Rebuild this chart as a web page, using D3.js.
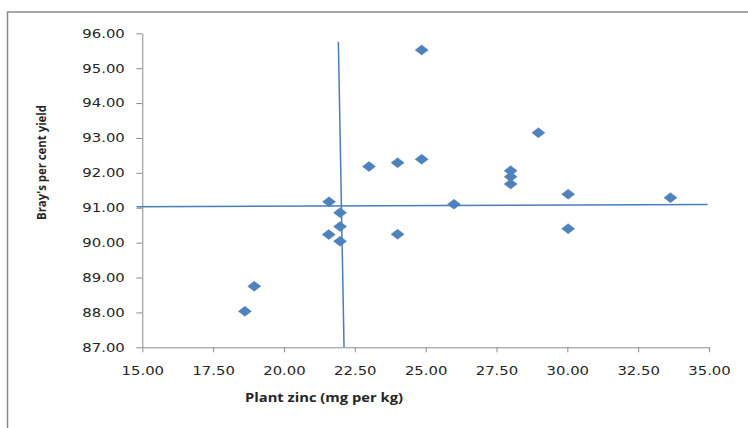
<!DOCTYPE html>
<html>
<head>
<meta charset="utf-8">
<script src="https://cdn.jsdelivr.net/npm/d3@7"></script>
<style>
    body { margin: 0; background: #fff; }
    svg { display: block; }
</style>
</head>
<body>
<script>
// plant zinc (mg per kg) vs Bray's per cent yield
var zinc  = [18.62, 18.95, 21.58, 21.59, 21.98, 21.98, 21.98, 23.00, 24.01, 24.01,
             24.86, 24.86, 26.00, 28.00, 28.00, 28.00, 28.98, 30.03, 30.03, 33.64];
var yield_ = [88.03, 88.75, 90.23, 91.17, 90.86, 90.46, 90.04, 92.18, 92.29, 90.24,
             95.52, 92.39, 91.10, 92.06, 91.89, 91.68, 93.15, 91.39, 90.40, 91.29];

// the two hand drawn dividing lines
var hLine = [[14.8, 91.03], [34.95, 91.09]];
var vLine = [[21.92, 95.76], [22.12, 87.0]];

var xTicks = [15, 17.5, 20, 22.5, 25, 27.5, 30, 32.5, 35];
var yTicks = [87, 88, 89, 90, 91, 92, 93, 94, 95, 96];

var W = 748, H = 428;
var plotL = 142.3, plotR = 709, plotT = 33.3, plotB = 347.3;
var blue = "#4a7ebb", axisGrey = "#8c8c8c", textCol = "#262626";

var svg = d3.select("body").append("svg")
    .attr("width", W)
    .attr("height", H);

// chart frame (runs off the right and bottom of the picture)
svg.append("rect")
    .attr("x", 7.5)
    .attr("y", 12)
    .attr("width", W + 10)
    .attr("height", H + 10)
    .attr("fill", "none")
    .attr("stroke", "#8a8a8a")
    .attr("stroke-width", 1.5);

var x = d3.scaleLinear().domain([15, 35]).range([plotL, plotR]);
var y = d3.scaleLinear().domain([87, 96]).range([plotB, plotT]);

var fmt = d3.format(".2f");

var xAxis = svg.append("g")
    .attr("transform", "translate(0," + plotB + ")")
    .call(d3.axisBottom(x).tickValues(xTicks).tickFormat(fmt).tickSize(5).tickPadding(14.5).tickSizeOuter(0));

var yAxis = svg.append("g")
    .attr("transform", "translate(" + plotL + ",0)")
    .call(d3.axisLeft(y).tickValues(yTicks).tickFormat(fmt).tickSize(6).tickPadding(11.5).tickSizeOuter(0));

[xAxis, yAxis].forEach(function (g) {
    g.select(".domain").attr("stroke", axisGrey).attr("stroke-width", 1);
    g.selectAll(".tick line").attr("stroke", axisGrey);
    g.selectAll(".tick text")
        .attr("fill", textCol)
        .style("font-family", "'DejaVu Sans', Verdana, sans-serif")
        .style("font-size", "12px")
        .attr("textLength", 42.5)
        .attr("lengthAdjust", "spacingAndGlyphs");
});

// axis titles
svg.append("text")
    .attr("x", 245)
    .attr("y", 402)
    .attr("textLength", 158)
    .attr("lengthAdjust", "spacingAndGlyphs")
    .attr("fill", textCol)
    .style("font-family", "'Open Sans', 'Noto Sans', sans-serif")
    .style("font-weight", "bold")
    .style("font-size", "12.5px")
    .text("Plant zinc (mg per kg)");

svg.append("text")
    .attr("transform", "translate(46,220) rotate(-90)")
    .attr("textLength", 115)
    .attr("lengthAdjust", "spacingAndGlyphs")
    .attr("fill", textCol)
    .style("font-family", "'Open Sans', 'Noto Sans', sans-serif")
    .style("font-weight", "bold")
    .style("font-size", "12.5px")
    .text("Bray's per cent yield");

// dividing lines
var line = d3.line()
    .x(function (d) { return x(d[0]); })
    .y(function (d) { return y(d[1]); });

[hLine, vLine].forEach(function (l) {
    svg.append("path")
        .attr("d", line(l))
        .attr("fill", "none")
        .attr("stroke", blue)
        .attr("stroke-width", 1.5);
});

// diamond markers, a bit wider than tall like the original
var diamond = "M0,-5L6.5,0L0,5L-6.5,0Z";

svg.append("g").selectAll("path")
    .data(zinc)
    .enter().append("path")
    .attr("d", diamond)
    .attr("transform", function (d, i) { return "translate(" + x(d) + "," + y(yield_[i]) + ")"; })
    .attr("fill", "#4f81bd")
    .attr("stroke", "#4a7ebb")
    .attr("stroke-width", 0.5);
</script>
</body>
</html>
